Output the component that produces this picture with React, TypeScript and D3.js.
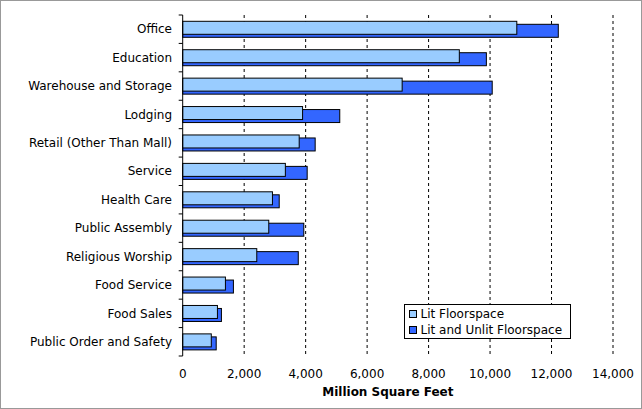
import * as d3 from "d3";

const categories = [
  "Office", "Education", "Warehouse and Storage", "Lodging", "Retail (Other Than Mall)",
  "Service", "Health Care", "Public Assembly", "Religious Worship", "Food Service",
  "Food Sales", "Public Order and Safety",
];
const litValues = [10870, 9000, 7140, 3900, 3790, 3340, 2920, 2800, 2410, 1390, 1130, 930];
const totalValues = [12220, 9880, 10070, 5110, 4310, 4050, 3140, 3940, 3760, 1650, 1260, 1090];
const xTicks = [0, 2000, 4000, 6000, 8000, 10000, 12000, 14000];

const W = 642;
const H = 409;
const M = { top: 15, left: 182.7, right: 29, bottom: 53 };
const FONT = "Verdana, 'DejaVu Sans', sans-serif";

export default function App() {
  const x = d3.scaleLinear().domain([0, 14000]).range([M.left, W - M.right]);
  const y = d3.scaleBand().domain(categories).range([M.top, H - M.bottom]);
  const bw = y.bandwidth();
  const barH = 13;

  return (
    <svg width={W} height={H} style={{ position: "absolute", left: 0, top: 0 }} fontFamily={FONT}>
      <rect x={0.5} y={0.5} width={W - 1} height={H - 1} fill="#fff" stroke="#999" />
      {xTicks.slice(1).map((t) => (
        <line key={t} x1={x(t)} x2={x(t)} y1={M.top} y2={H - M.bottom} stroke="#000" strokeDasharray="3,3" />
      ))}
      {categories.map((c, i) => {
        const y0 = y(c)!;
        return (
          <g key={c}>
            <rect x={x(0)} y={y0 + 9.3} width={x(totalValues[i]) - x(0)} height={barH} fill="#3366ff" stroke="#000" strokeWidth={1} />
            <rect x={x(0)} y={y0 + 6.3} width={x(litValues[i]) - x(0)} height={barH} fill="#99ccff" stroke="#000" strokeWidth={1} />
            <text x={172} y={y0 + bw / 2} dy="0.35em" textAnchor="end" fontSize={12}>{c}</text>
          </g>
        );
      })}
      <line x1={x(0)} x2={x(0)} y1={M.top} y2={H - M.bottom} stroke="#000" />
      {d3.range(categories.length + 1).map((i) => {
        const yy = M.top + i * bw;
        return <line key={i} x1={x(0) - 4} x2={x(0)} y1={yy} y2={yy} stroke="#000" />;
      })}
      {xTicks.map((t) => (
        <text key={t} x={x(t)} y={378} textAnchor="middle" fontSize={12}>{d3.format(",")(t)}</text>
      ))}
      <text x={(x(0) + x(14000)) / 2 - 10} y={396} textAnchor="middle" fontSize={12} fontWeight="bold">Million Square Feet</text>
      <g transform="translate(404.5,304.5)">
        <rect width={166} height={34} fill="#fff" stroke="#000" />
        <rect x={5} y={6} width={7} height={7} fill="#99ccff" stroke="#000" />
        <text x={16} y={13} fontSize={12}>Lit Floorspace</text>
        <rect x={5} y={22} width={7} height={7} fill="#3366ff" stroke="#000" />
        <text x={16} y={29} fontSize={12}>Lit and Unlit Floorspace</text>
      </g>
    </svg>
  );
}
